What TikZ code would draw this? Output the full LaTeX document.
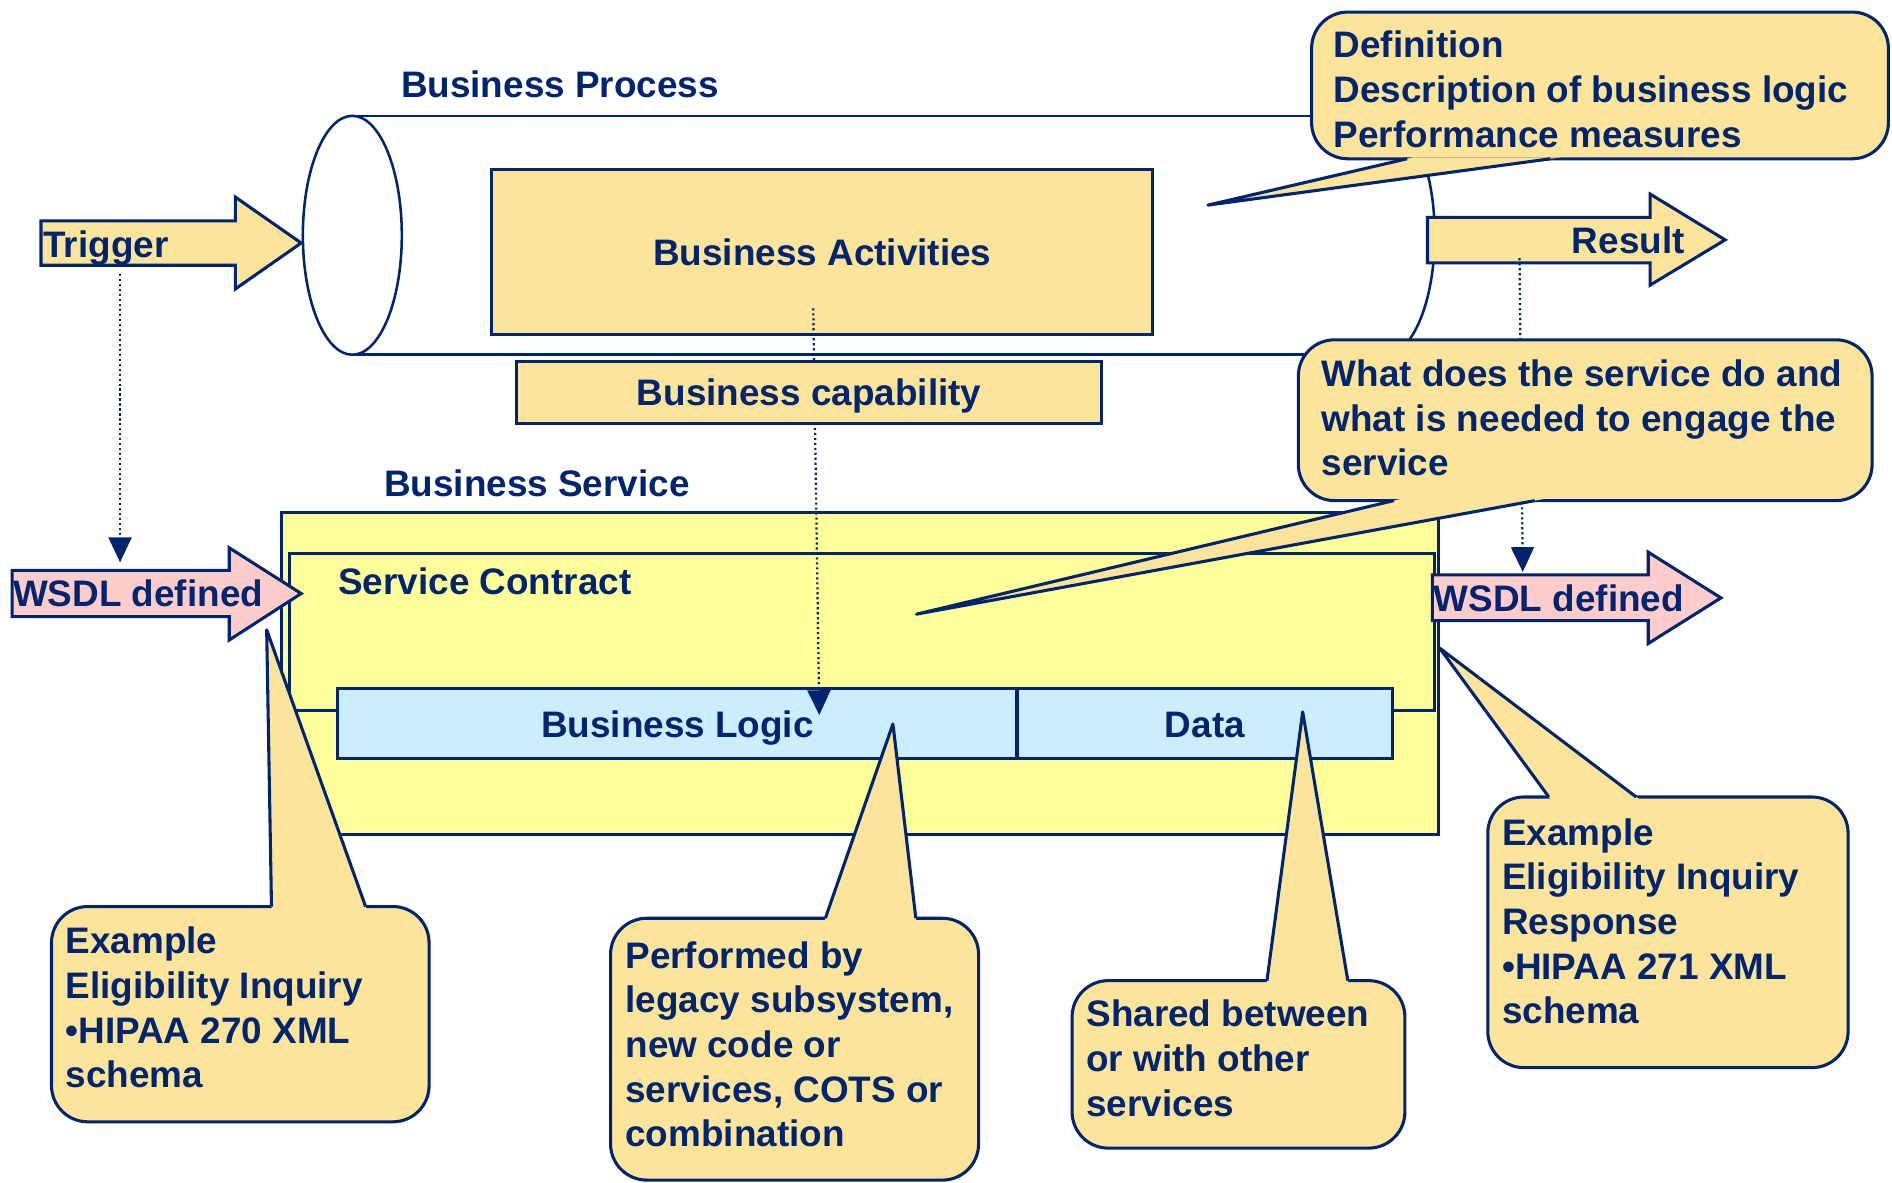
\documentclass[tikz,border=0pt]{standalone}
\usepackage{fontspec}
\setmainfont{Liberation Sans}
\usetikzlibrary{arrows.meta,calc}
\definecolor{navy}{RGB}{0,36,110}
\definecolor{tan}{RGB}{252,229,155}
\definecolor{lemon}{RGB}{255,255,153}
\definecolor{sky}{RGB}{204,236,255}
\definecolor{rose}{RGB}{255,204,204}

\begin{document}
\begin{tikzpicture}[x=0.02cm, y=-0.02cm,
    every node/.style={text=navy, inner sep=0pt, font=\fontsize{17.4}{21.05}\selectfont\bfseries},
    box/.style={draw=navy, line width=1.45pt, text height=12.7pt, text depth=0pt},
    blockarrow/.style={draw=navy, line width=1.45pt},
    bubble/.style={draw=navy, fill=tan, line width=1.45pt, rounded corners=0.6cm},
    pointer/.style={draw=navy, line width=1.45pt, line join=round},
    link/.style={draw=navy, line width=1.05pt, dash pattern=on 1pt off 1.35pt, -{Triangle[length=11.7pt,width=10.8pt]}},
    note/.style={anchor=north west, align=left}]

    % Page
    \fill[white] (0,0) rectangle (1568,980);
    \useasboundingbox (0,0) rectangle (1568,980);

    % Business process cylinder
    \draw[navy, line width=1.2pt] (292,96) -- (1148,96) (292,294) -- (1148,294);
    \draw[navy, line width=1.2pt] (1148,96) arc[start angle=-90, end angle=90, x radius=41, y radius=99];
    \draw[navy, line width=1.2pt, fill=white] (292,195) ellipse [x radius=41, y radius=99];
    \node[anchor=base west] (process-label) at (332,81) {Business Process};
    \node[box, fill=tan, minimum width=10.96cm, minimum height=2.73cm] (activities) at (681.5,208.7) {Business Activities};

    % Business service
    \node[anchor=base west] (service-label) at (318,411.7) {Business Service};
    \node[box, fill=lemon, minimum width=19.17cm, minimum height=5.34cm] (service) at (712.8,558.4) {};
    \node[box, fill=lemon, minimum width=18.98cm, minimum height=2.61cm] (contract) at (714.5,523.7) {};
    \node[anchor=base west] (contract-label) at (280,493) {Service Contract};
    \node[box, fill=sky, minimum width=11.26cm, minimum height=1.16cm] (logic) at (561.4,599.9) {Business Logic};
    \node[box, fill=sky, minimum width=6.22cm, minimum height=1.16cm] (data) at (998.5,599.9) {Data};

    % Trigger, result and WSDL arrows
    \draw[blockarrow, fill=tan] (34,183) -- (195,183) -- (195,163.3) -- (249.6,201.4) -- (195,239.5) -- (195,219.8) -- (34,219.8) -- cycle;
    \node[anchor=base west] (trigger) at (35.6,213) {Trigger};
    \draw[blockarrow, fill=rose] (10,472.7) -- (190,472.7) -- (190,454) -- (249.6,491.9) -- (190,530.4) -- (190,511) -- (10,511) -- cycle;
    \node[anchor=base west] (wsdl-in) at (10.5,502.6) {WSDL defined};
    \draw[blockarrow, fill=tan] (1183,180.2) -- (1367.5,180.2) -- (1367.5,160.8) -- (1429.7,198.8) -- (1367.5,236.3) -- (1367.5,217.9) -- (1183,217.9) -- cycle;
    \node[anchor=base east] (result) at (1396.5,210.3) {Result};
    \draw[blockarrow, fill=rose] (1187,476.4) -- (1366,476.4) -- (1366,457.6) -- (1426.2,495.5) -- (1366,533.3) -- (1366,514.3) -- (1187,514.3) -- cycle;
    \node[anchor=base west] (wsdl-out) at (1188,506.4) {WSDL defined};

    % Dotted links
    \coordinate (trigger-drop) at (99.5,227);
    \coordinate (wsdl-in-top) at (99.5,466);
    \draw[link] (trigger-drop) -- (wsdl-in-top);
    \coordinate (activities-drop) at (674,255.5);
    \coordinate (logic-top) at (679,592.6);
    \draw[link] (activities-drop) -- (logic-top);
    \coordinate (result-drop) at (1259.3,214);
    \coordinate (wsdl-out-top) at (1262,474);
    \draw[link] (result-drop) -- (wsdl-out-top);

    \node[box, fill=tan, minimum width=9.69cm, minimum height=1.03cm] (capability) at (670.6,325.3) {Business capability};

    % Callouts
    \draw[bubble] (1087,10) rectangle (1565,131.6);
    \fill[tan] ($(1166,131.6)!-0.03!(1001,170)$) -- (1001,170) -- ($(1285,131.6)!-0.03!(1001,170)$) -- cycle;
    \draw[pointer] (1166,131.6) -- (1001,170) -- (1285,131.6);
    \node[note] (definition) at (1105,25.5) {Definition\\Description of business logic\\Performance measures};

    \draw[bubble] (1076,281.6) rectangle (1551.5,414.9);
    \fill[tan] ($(1155,414.9)!-0.03!(759.5,509)$) -- (759.5,509) -- ($(1272,414.9)!-0.03!(759.5,509)$) -- cycle;
    \draw[pointer] (1155,414.9) -- (759.5,509) -- (1272,414.9);
    \node[note] (contract-note) at (1095,298) {What does the service do and\\what is needed to engage the\\service};

    \draw[bubble] (42.7,751.3) rectangle (355.6,929.7);
    \fill[tan] ($(225,751.3)!-0.03!(221,522)$) -- (221,522) -- ($(303,751.3)!-0.03!(221,522)$) -- cycle;
    \draw[pointer] (225,751.3) -- (221,522) -- (303,751.3);
    \node[note] (request-note) at (54,768) {Example\\Eligibility Inquiry\\•HIPAA 270 XML\\schema};

    \draw[bubble] (506,761) rectangle (811,978);
    \fill[tan] ($(684,761)!-0.03!(740,600)$) -- (740,600) -- ($(759,761)!-0.03!(740,600)$) -- cycle;
    \draw[pointer] (684,761) -- (740,600) -- (759,761);
    \node[note] (logic-note) at (518,780) {Performed by\\legacy subsystem,\\new code or\\services, COTS or\\combination};

    \draw[bubble] (888.5,812.7) rectangle (1164.3,951.5);
    \fill[tan] ($(1050,812.7)!-0.03!(1079.6,590)$) -- (1079.6,590) -- ($(1117,812.7)!-0.03!(1079.6,590)$) -- cycle;
    \draw[pointer] (1050,812.7) -- (1079.6,590) -- (1117,812.7);
    \node[note] (data-note) at (900,828.6) {Shared between\\or with other\\services};

    \draw[bubble] (1233,660.5) rectangle (1531.6,884.8);
    \fill[tan] ($(1283.6,660.5)!-0.03!(1193,537)$) -- (1193,537) -- ($(1356,660.5)!-0.03!(1193,537)$) -- cycle;
    \draw[pointer] (1283.6,660.5) -- (1193,537) -- (1356,660.5);
    \node[note] (response-note) at (1244.5,678) {Example\\Eligibility Inquiry\\Response\\•HIPAA 271 XML\\schema};
\end{tikzpicture}
\end{document}
